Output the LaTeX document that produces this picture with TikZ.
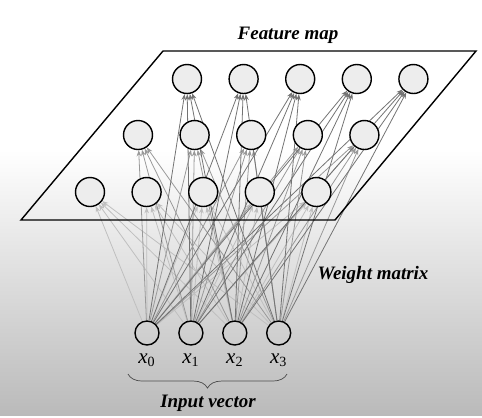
\documentclass[tikz,border=0pt]{standalone}
\usepackage{fontspec}
\setmainfont{Liberation Serif}
\usetikzlibrary{
    arrows.meta,
    positioning,
    decorations.pathreplacing,
}
\pgfdeclarelayer{paper}
\pgfdeclarelayer{wires}
\pgfsetlayers{paper,wires,main}

\begin{document}
\begin{tikzpicture}[
        x=0.02cm, y=-0.02cm,
        >={Stealth[length=3.5pt,width=2.6pt]},
        node distance=0.37cm,
        unit/.style={
            circle, draw=black, thick, fill=black!7,
            minimum size=0.58cm, inner sep=0pt
        },
        inunit/.style={
            circle, draw=black, thick,
            minimum size=0.48cm, inner sep=0pt
        },
        weight/.style={->, line width=0.45pt},
        caption/.style={font=\fontsize{10.8}{13}\selectfont\bfseries\itshape},
        xlabel/.style={font=\fontsize{12}{14}\selectfont, yshift=-1pt},
    ]

    % ── Background ──
    \begin{pgfonlayer}{paper}
        \fill[white] (0,0) rectangle (482,415);
        \shade[top color=white, bottom color=black!27] (0,150) rectangle (482,415);
    \end{pgfonlayer}

    % ── Feature map plane ──
    \draw[thick] (163,51) -- (476,51) -- (335,220) -- (21,220) -- cycle;
    \node[caption] (fmap) at (288,35) {Feature map};

    % ── Feature units (rows from back to front) ──
    \foreach \r/\y/\x in {1/79/187, 2/135/138, 3/192/90}
        \foreach \c in {1,...,5}
            \node[unit] (f\r\c) at ({\x+56.6*(\c-1)},\y) {};

    % ── Input units ──
    \node[inunit, label={[xlabel]below:\textit{x}\textsubscript{0}}] (in0) at (147,333) {};
    \node[inunit, right=of in0, label={[xlabel]below:\textit{x}\textsubscript{1}}] (in1) {};
    \node[inunit, right=of in1, label={[xlabel]below:\textit{x}\textsubscript{2}}] (in2) {};
    \node[inunit, right=of in2, label={[xlabel]below:\textit{x}\textsubscript{3}}] (in3) {};

    % ── Weights ──
    \begin{pgfonlayer}{wires}
        \foreach \r/\tone in {3/25, 2/40, 1/55}
            \foreach \c in {1,...,5}
                \foreach \i in {0,...,3}
                    \draw[weight, draw=black!\tone] (in\i) -- (f\r\c);
    \end{pgfonlayer}
    \node[caption] (wmat) at (373,275) {Weight matrix};

    % ── Input vector ──
    \coordinate (bl) at (128,374);
    \coordinate (br) at (287,374);
    \draw[decorate, decoration={brace, mirror, amplitude=8pt}, black!70] (bl) -- (br);
    \node[caption] (ivec) at (208,403) {Input vector};

\end{tikzpicture}
\end{document}
